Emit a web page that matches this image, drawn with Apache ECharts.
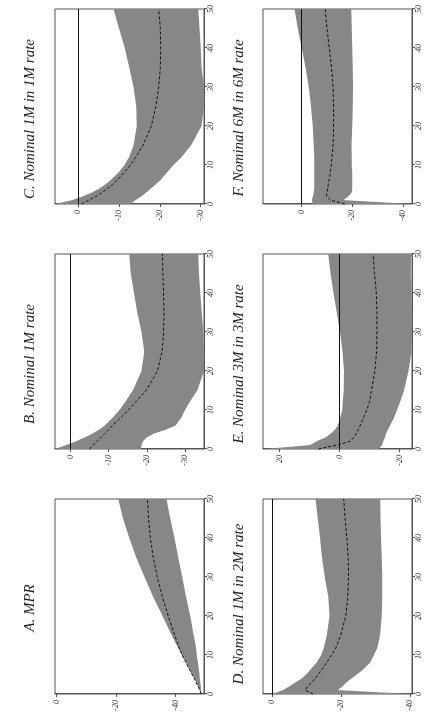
<!DOCTYPE html>
<html><head><meta charset="utf-8">
<script src="https://cdn.jsdelivr.net/npm/echarts@6/dist/echarts.min.js"></script>
<style>
html,body{margin:0;padding:0;background:#fff;overflow:hidden;width:427px;height:722px;}
#wrap{position:absolute;left:0;top:0;width:722px;height:427px;transform-origin:0 0;transform:translate(0,722px) rotate(-90deg);background:#fff;}
</style></head><body><div id="wrap"></div>
<script>
// horizons (months)
const horizon = [0,1,2,3,4,5,6,8,10,12,15,20,25,30,35,40,45,50];
const xTicks = [0,10,20,30,40,50];

const titles = ['A. MPR','B. Nominal 1M rate','C. Nominal 1M in 1M rate',
                'D. Nominal 1M in 2M rate','E. Nominal 3M in 3M rate','F. Nominal 6M in 6M rate'];

// A. MPR
const mprUpper  = [-48.6,-48.0,-47.5,-46.9,-46.2,-45.5,-44.8,-43.5,-42.0,-40.7,-38.7,-35.6,-32.4,-29.5,-26.8,-24.4,-22.3,-20.7];
const mprMedian = [-48.6,-48.1,-47.5,-46.8,-46.2,-45.5,-44.8,-43.5,-42.2,-41.1,-39.7,-37.5,-35.5,-33.8,-32.5,-31.5,-30.9,-30.5];
const mprLower  = [-48.6,-48.5,-48.4,-48.2,-48.1,-48.0,-47.8,-47.5,-47.1,-46.8,-46.1,-44.9,-43.5,-42.2,-40.9,-39.6,-38.2,-36.9];
const mprTicks  = [-40,-20,0];

// B. Nominal 1M rate
const n1Upper  = [4.1,1.2,-1.5,-3.8,-5.8,-7.5,-8.9,-11.0,-12.8,-14.3,-16.3,-18.6,-19.3,-18.6,-17.5,-16.6,-15.8,-15.4];
const n1Median = [-4.9,-5.9,-7.0,-8.0,-9.0,-10.0,-11.0,-13.1,-15.2,-17.0,-19.8,-22.8,-24.0,-24.4,-24.5,-24.4,-24.2,-24.1];
const n1Lower  = [-18.5,-18.6,-19.0,-20.0,-22.0,-25.0,-27.5,-29.0,-30.0,-31.2,-33.2,-35.0,-35.0,-34.8,-34.4,-34.0,-33.7,-33.5];
const n1Ticks  = [-30,-20,-10,0];

// C. Nominal 1M in 1M rate
const f11Upper  = [5.7,1.5,-1.2,-3.4,-5.2,-6.6,-7.8,-9.8,-11.3,-12.4,-13.5,-14.3,-14.2,-13.5,-12.5,-11.4,-10.0,-8.6];
const f11Median = [-0.8,-2.6,-4.4,-5.9,-7.2,-8.4,-9.4,-11.2,-12.8,-14.1,-15.8,-17.9,-19.0,-19.7,-20.1,-20.2,-20.1,-19.7];
const f11Lower  = [-12.7,-14.0,-15.5,-16.7,-17.8,-18.9,-20.0,-21.7,-23.3,-25.3,-27.6,-30.2,-30.8,-30.8,-30.2,-30.0,-29.7,-29.4];
const f11Ticks  = [-30,-20,-10,0];

// D. Nominal 1M in 2M rate
const f12Upper  = [0.0,-3.1,-5.0,-6.8,-8.5,-9.8,-10.8,-12.8,-14.2,-15.0,-15.8,-16.6,-16.2,-15.2,-14.4,-13.8,-13.2,-12.5];
const f12Median = [-11.8,-9.5,-10.3,-11.4,-12.4,-13.3,-14.1,-15.7,-17.2,-18.5,-19.8,-21.3,-21.9,-22.1,-22.0,-21.6,-21.1,-20.7];
const f12Lower  = [-40.0,-19.0,-20.4,-21.5,-23.0,-24.5,-26.0,-28.3,-29.5,-30.5,-31.2,-31.7,-31.9,-31.9,-31.7,-31.5,-31.4,-31.3];
const f12Ticks  = [-40,-20,0];

// E. Nominal 3M in 3M rate
const f33Upper  = [25.0,9.8,7.6,4.6,2.8,1.5,0.6,-0.3,-0.9,-1.1,-1.4,-1.5,-1.0,-0.2,0.9,2.0,3.0,3.7];
const f33Median = [7.0,0.9,-3.6,-4.8,-5.6,-6.3,-6.9,-8.0,-9.1,-10.0,-10.7,-11.8,-12.4,-12.5,-12.5,-12.3,-11.7,-11.2];
const f33Lower  = [-13.1,-14.2,-14.6,-15.2,-15.6,-16.2,-16.9,-18.2,-19.2,-20.2,-21.5,-23.0,-24.0,-24.2,-24.2,-24.0,-23.8,-23.9];
const f33Ticks  = [-20,0,20];

// F. Nominal 6M in 6M rate
const f66Upper  = [-4.5,-4.0,-4.5,-4.8,-5.0,-5.0,-5.0,-5.0,-5.0,-5.0,-4.8,-4.4,-3.7,-2.8,-1.5,0.0,1.6,2.8];
const f66Median = [-17.0,-11.5,-9.8,-10.0,-10.3,-10.5,-10.8,-11.3,-11.7,-12.0,-12.4,-12.6,-12.6,-12.4,-11.8,-10.9,-10.0,-9.3];
const f66Lower  = [-43.5,-16.5,-18.5,-19.8,-20.0,-20.0,-20.0,-20.0,-19.8,-19.8,-19.7,-20.0,-20.2,-20.3,-20.2,-20.0,-19.8,-19.6];
const f66Ticks  = [-40,-20,0];

const panels = [
  {up:mprUpper, med:mprMedian, lo:mprLower, ticks:mprTicks, min:-49.5, max:0.5, zero:false},
  {up:n1Upper,  med:n1Median,  lo:n1Lower,  ticks:n1Ticks,  min:-35.0, max:4.1, zero:true},
  {up:f11Upper, med:f11Median, lo:f11Lower, ticks:f11Ticks, min:-30.8, max:5.7, zero:true},
  {up:f12Upper, med:f12Median, lo:f12Lower, ticks:f12Ticks, min:-40.5, max:2.7, zero:true},
  {up:f33Upper, med:f33Median, lo:f33Lower, ticks:f33Ticks, min:-24.2, max:25.5, zero:true},
  {up:f66Upper, med:f66Median, lo:f66Lower, ticks:f66Ticks, min:-43.6, max:15.3, zero:true}
];

// layout (landscape frame, later rotated)
const gridLefts = [28,273,518];
const gridTops = [55,263];
const titlePos = [[114,30],[358,30],[603,30],[118,239],[358,239],[604,239]];

const FONT = '"Liberation Serif","DejaVu Serif",serif';
const chart = echarts.init(document.getElementById('wrap'), null, {width:722, height:427});

const grid=[], xAxis=[], yAxis=[], series=[], graphic=[];
panels.forEach((p,i)=>{
  grid.push({left:gridLefts[i%3], top:gridTops[Math.floor(i/3)], width:195, height:149,
    show:true, borderColor:'#555', borderWidth:1, backgroundColor:'transparent'});
  xAxis.push({gridIndex:i, type:'value', min:0, max:50, interval:10,
    axisLine:{show:true, onZero:false, lineStyle:{color:'#555', width:1}},
    axisTick:{show:true, inside:false, length:3, lineStyle:{color:'#555'}},
    axisLabel:{fontSize:8, fontStyle:'italic', fontFamily:FONT, color:'#333', margin:3},
    splitLine:{show:false}});
  yAxis.push({gridIndex:i, type:'value', min:p.min, max:p.max,
    axisLine:{show:true, onZero:false, lineStyle:{color:'#555', width:1}},
    axisTick:{show:true, inside:false, length:3, customValues:p.ticks, lineStyle:{color:'#555'}},
    axisLabel:{fontSize:8, fontStyle:'italic', fontFamily:FONT, color:'#333', margin:6, customValues:p.ticks},
    splitLine:{show:false}});
  const bandData = horizon.map((h,k)=>[h, p.up[k], p.lo[k]]);
  const medData = horizon.map((h,k)=>[h, p.med[k]]);
  series.push({type:'custom', xAxisIndex:i, yAxisIndex:i, data:bandData, silent:true, clip:true,
    encode:{x:0, y:[1,2]}, z:1,
    renderItem:(params, api)=>{
      if (params.dataIndex !== 0) return null;
      const top = horizon.map((h,k)=>api.coord([h, p.up[k]]));
      const bot = horizon.map((h,k)=>api.coord([h, p.lo[k]])).reverse();
      return {type:'polygon', shape:{points:top.concat(bot)}, style:{fill:'#878787', stroke:null}};
    }});
  const med = {type:'line', xAxisIndex:i, yAxisIndex:i, data:medData, symbol:'none', silent:true,
    lineStyle:{color:'#111', width:1, type:[3,2]}, z:3};
  if (p.zero) {
    med.markLine = {silent:true, symbol:'none', label:{show:false}, animation:false,
      lineStyle:{color:'#111', width:1, type:'solid'}, data:[{yAxis:0}]};
  }
  series.push(med);
  graphic.push({type:'text', x:titlePos[i][0], y:titlePos[i][1],
    style:{text:titles[i], font:'italic 15px '+FONT, fill:'#222', textAlign:'center', textVerticalAlign:'middle'}});
});

chart.setOption({animation:false, backgroundColor:'#fff', grid, xAxis, yAxis, series, graphic});
</script></body></html>
